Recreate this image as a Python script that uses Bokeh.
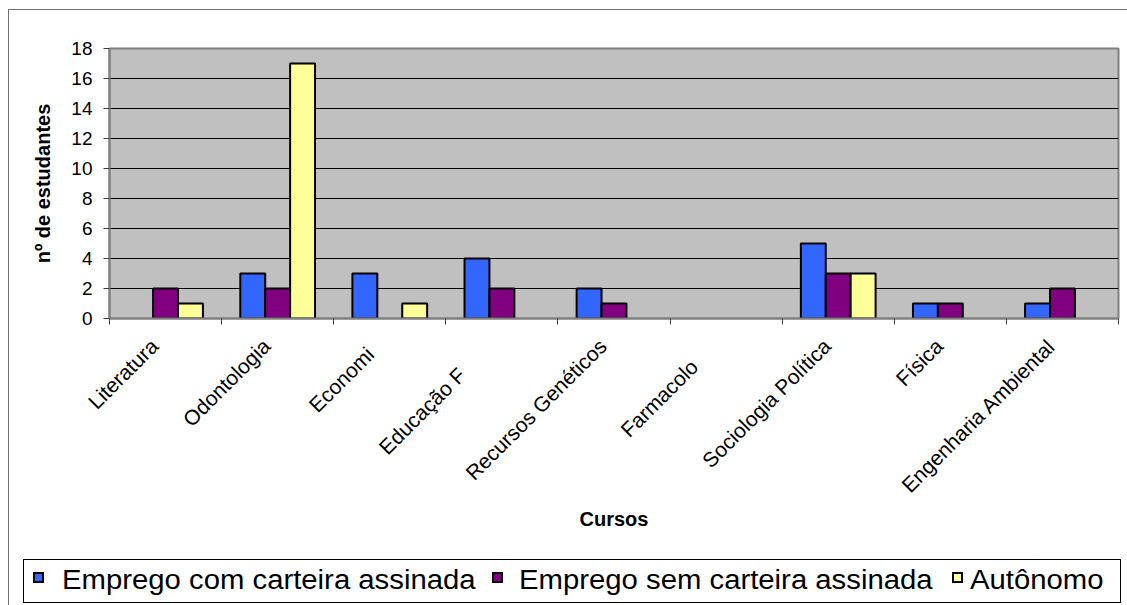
import numpy as np
from bokeh.plotting import figure
from bokeh.layouts import column
from bokeh.models import (Range1d, FixedTicker, Div,
                          ColumnDataSource, CDSView, BooleanFilter)
from bokeh.embed import file_html
from bokeh.resources import INLINE

# ---- data ----
categories = ["Literatura", "Odontologia", "Economia", "Educação Física",
              "Recursos Genéticos", "Farmacologia", "Sociologia Política",
              "Física", "Engenharia Ambiental"]
# labels as shown (clipped in the original); hidden tail kept as blank width
NB = "\u00a0"
tick_labels = ["Literatura", "Odontologia", "Economi" + NB * 2, "Educação F" + NB * 7,
               "Recursos Genéticos", "Farmacolo" + NB * 5, "Sociologia Política",
               "Física", "Engenharia Ambiental"]
emprego_com = [0, 3, 3, 4, 2, 0, 5, 1, 1]
emprego_sem = [2, 2, 0, 2, 1, 0, 3, 1, 2]
autonomo = [1, 17, 1, 0, 0, 0, 3, 0, 0]
series_names = ["Emprego com carteira assinada", "Emprego sem carteira assinada", "Autônomo"]
y_ticks = [0, 2, 4, 6, 8, 10, 12, 14, 16, 18]
y_title = "nº de estudantes"
x_title = "Cursos"

FONT = "Liberation Sans"
n = len(categories)
colors = ["#3366FF", "#800080", "#FFFF99"]
series = [emprego_com, emprego_sem, autonomo]

W = 1118
H1 = 530
H2 = 65

p = figure(width=W, height=H1, x_range=Range1d(0, n), y_range=Range1d(0, 18),
           output_backend="svg", toolbar_location=None,
           min_border_left=100, min_border_right=9, min_border_top=38, min_border_bottom=222)
p.background_fill_color = "#C0C0C0"
p.border_fill_color = "white"
p.outline_line_color = "#808080"
p.outline_line_width = 2

centers = [i + 0.5 for i in range(n)]
bw = 1 / 4.5
offsets = [-bw, 0.0, bw]
for vals, off, col in zip(series, offsets, colors):
    src = ColumnDataSource(dict(x=[c + off for c in centers], top=vals))
    view = CDSView(filter=BooleanFilter([v > 0 for v in vals]))
    p.vbar(x="x", top="top", bottom=0, width=bw, source=src, view=view,
           fill_color=col, line_color="black", line_width=2)

# x axis: labels near category centres, tick marks at category boundaries (minor ticks)
label_pos = [c - 0.1 for c in centers]
p.xaxis.ticker = FixedTicker(ticks=label_pos, minor_ticks=list(range(n + 1)))
p.xaxis.major_label_overrides = {c: t for c, t in zip(label_pos, tick_labels)}
p.xaxis.major_label_orientation = np.pi / 4
p.xaxis.major_label_text_font = FONT
p.xaxis.major_label_text_font_size = "21px"
p.xaxis.major_label_text_color = "black"
p.xaxis.major_label_standoff = 18
p.xaxis.major_tick_out = 0
p.xaxis.major_tick_in = 0
p.xaxis.major_tick_line_color = None
p.xaxis.minor_tick_out = 6
p.xaxis.minor_tick_in = 0
p.xaxis.minor_tick_line_color = "#404040"
p.xaxis.axis_line_color = "#808080"
p.xaxis.axis_line_width = 2
p.xaxis.axis_label = x_title
p.xaxis.axis_label_text_font = FONT
p.xaxis.axis_label_text_font_size = "20px"
p.xaxis.axis_label_text_font_style = "bold"
p.xaxis.axis_label_text_color = "black"
p.xaxis.axis_label_standoff = 0
p.xgrid.visible = False

# y axis
p.yaxis.ticker = FixedTicker(ticks=y_ticks)
p.yaxis.major_tick_out = 6
p.yaxis.major_tick_in = 0
p.yaxis.minor_tick_line_color = None
p.yaxis.axis_line_color = "#808080"
p.yaxis.axis_line_width = 2
p.yaxis.major_tick_line_color = "#404040"
p.yaxis.major_label_text_font = FONT
p.yaxis.major_label_text_font_size = "19px"
p.yaxis.major_label_text_color = "black"
p.yaxis.major_label_standoff = 11
p.yaxis.axis_label = y_title
p.yaxis.axis_label_text_font = FONT
p.yaxis.axis_label_text_font_size = "20px"
p.yaxis.axis_label_text_font_style = "bold"
p.yaxis.axis_label_text_color = "black"
p.yaxis.axis_label_standoff = 14
p.ygrid.ticker = FixedTicker(ticks=y_ticks)
p.ygrid.grid_line_color = "black"
p.ygrid.grid_line_width = 1

# legend box (HTML, below the chart)
swatch_left = [9, 468, 928]
text_left = [38, 495, 946]
parts = []
for name, col, sl, tl in zip(series_names, colors, swatch_left, text_left):
    parts.append(
        f'<span style="position:absolute;left:{sl}px;top:12px;width:11px;height:11px;'
        f'background:{col};border:2px solid black;"></span>'
        f'<span style="position:absolute;left:{tl}px;top:7px;line-height:27px;font-size:27px;'
        f'white-space:nowrap;transform:scaleX(1.085);transform-origin:0 50%;color:black;">{name}</span>'
    )
legend_html = (
    f'<div style="position:relative;box-sizing:border-box;margin-left:14px;margin-top:19px;'
    f'width:1098px;height:44px;border:1px solid black;background:white;'
    f"font-family:'{FONT}';\">" + "".join(parts) + "</div>"
)
legend_div = Div(text=legend_html, width=W, height=H2, styles={"margin": "0", "padding": "0"})

layout = column(p, legend_div, spacing=0)
layout.styles = {"margin-left": "8px", "margin-top": "9px",
                 "border-left": "1px solid #707070", "border-top": "1px solid #707070"}

open("out.html", "w").write(file_html(layout, INLINE))
